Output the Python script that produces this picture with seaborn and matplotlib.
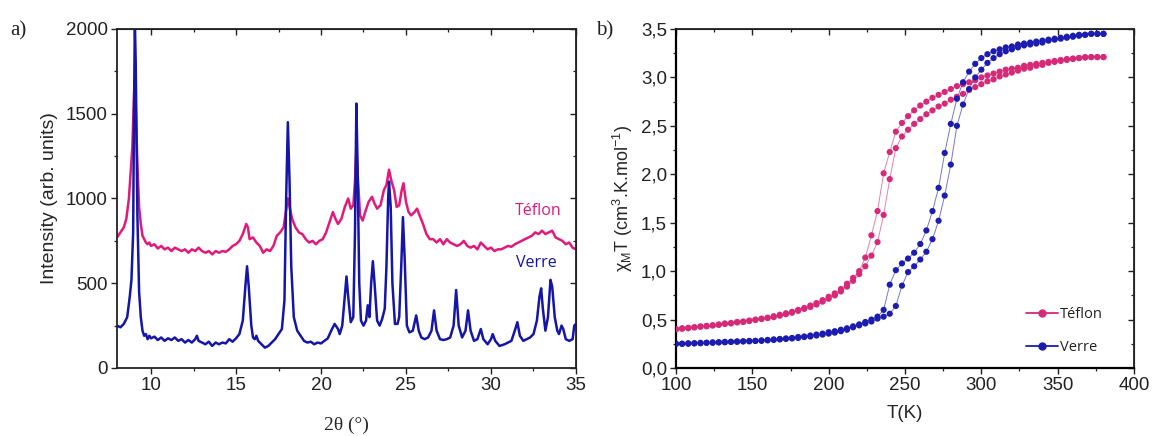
"""Two-panel figure: a) XRD patterns (Teflon / Verre), b) chi_M T vs T spin-crossover loops."""
import matplotlib
matplotlib.use("Agg")
import matplotlib.pyplot as plt
from matplotlib.lines import Line2D
from matplotlib.ticker import MultipleLocator, FuncFormatter
import seaborn as sns

# ---------------- a) XRD ----------------
ver_x = [8.0, 8.2, 8.4, 8.6, 8.75, 8.85, 8.95, 9.0, 9.05, 9.1, 9.2, 9.3, 9.4, 9.5, 9.6, 9.7, 9.8, 9.9,
         10.0, 10.2, 10.4, 10.6, 10.8, 11.0, 11.2, 11.4, 11.6, 11.8, 12.0, 12.2, 12.4, 12.6, 12.7, 12.8,
         13.0, 13.2, 13.4, 13.6, 13.8, 14.0, 14.2, 14.4, 14.6, 14.8, 15.0, 15.2, 15.4, 15.55, 15.65, 15.75,
         15.9, 16.0, 16.1, 16.2, 16.3, 16.5, 16.7, 16.9, 17.1, 17.3, 17.5, 17.7, 17.85, 17.95, 18.05, 18.15,
         18.25, 18.4, 18.6, 18.8, 19.0, 19.2, 19.4, 19.6, 19.8, 20.0, 20.2, 20.4, 20.6, 20.8, 21.0, 21.1,
         21.25, 21.4, 21.5, 21.6, 21.75, 21.9, 22.0, 22.08, 22.15, 22.25, 22.35, 22.5, 22.65, 22.75, 22.85,
         22.95, 23.05, 23.15, 23.3, 23.45, 23.6, 23.75, 23.85, 23.95, 24.0, 24.1, 24.2, 24.35, 24.5, 24.6,
         24.72, 24.82, 24.92, 25.05, 25.2, 25.4, 25.6, 25.75, 25.9, 26.1, 26.3, 26.5, 26.65, 26.8, 27.0,
         27.2, 27.4, 27.6, 27.8, 27.95, 28.1, 28.3, 28.5, 28.65, 28.8, 29.0, 29.2, 29.4, 29.55, 29.8, 30.0,
         30.1, 30.25, 30.5, 30.8, 31.0, 31.2, 31.4, 31.55, 31.7, 31.9, 32.1, 32.3, 32.5, 32.7, 32.85, 32.95,
         33.05, 33.2, 33.35, 33.5, 33.6, 33.75, 33.9, 34.0, 34.15, 34.25, 34.4, 34.6, 34.8, 34.9, 35.0]
ver_y = [250, 240, 260, 300, 420, 520, 800, 1500, 2050, 1800, 900, 450, 300, 220, 190, 200, 170, 190,
         175, 185, 165, 180, 160, 175, 165, 180, 160, 170, 150, 165, 150, 170, 190, 160,
         150, 140, 155, 130, 150, 140, 150, 145, 170, 155, 175, 200, 280, 480, 600, 480,
         250, 180, 170, 190, 160, 140, 120, 130, 150, 170, 200, 230, 400, 1000, 1450, 1100,
         600, 300, 220, 190, 160, 150, 155, 140, 150, 145, 160, 175, 220, 260, 230, 200,
         250, 420, 540, 420, 270, 300, 800, 1560, 1200, 500, 280, 250, 280, 370, 300,
         500, 630, 500, 280, 250, 290, 350, 600, 1000, 1100, 950, 500, 260, 260, 300,
         600, 890, 650, 250, 210, 220, 310, 220, 180, 170, 180, 220, 340, 220, 170,
         165, 170, 180, 250, 460, 250, 180, 220, 340, 220, 160, 170, 230, 170, 140, 170,
         200, 160, 130, 140, 150, 160, 220, 270, 190, 160, 170, 180, 200, 280, 420, 470,
         350, 220, 300, 520, 480, 300, 220, 200, 250, 230, 170, 160, 170, 250, 260]

tef_x = [8.0, 8.2, 8.4, 8.55, 8.7, 8.8, 8.9, 8.97, 9.03, 9.1, 9.2, 9.3, 9.4, 9.5, 9.6, 9.7, 9.8, 9.9,
         10.0, 10.2, 10.4, 10.6, 10.8, 11.0, 11.2, 11.4, 11.6, 11.8, 12.0, 12.2, 12.4, 12.6, 12.8, 13.0,
         13.2, 13.4, 13.6, 13.8, 14.0, 14.2, 14.4, 14.6, 14.8, 15.0, 15.2, 15.4, 15.6, 15.7, 15.8, 16.0,
         16.2, 16.4, 16.6, 16.8, 17.0, 17.2, 17.4, 17.6, 17.8, 17.95, 18.05, 18.15, 18.3, 18.5, 18.7, 18.9,
         19.1, 19.3, 19.5, 19.7, 19.9, 20.1, 20.3, 20.5, 20.7, 20.85, 21.0, 21.2, 21.4, 21.6, 21.75, 21.9,
         22.0, 22.08, 22.15, 22.3, 22.45, 22.6, 22.8, 23.0, 23.15, 23.3, 23.5, 23.7, 23.85, 24.0, 24.15,
         24.3, 24.45, 24.6, 24.75, 24.85, 25.0, 25.15, 25.3, 25.5, 25.65, 25.8, 26.0, 26.2, 26.4, 26.6,
         26.8, 27.0, 27.2, 27.4, 27.6, 27.8, 28.0, 28.2, 28.4, 28.6, 28.8, 29.0, 29.2, 29.4, 29.6, 29.8,
         30.0, 30.2, 30.4, 30.6, 30.8, 31.0, 31.2, 31.4, 31.6, 31.8, 32.0, 32.2, 32.4, 32.6, 32.8, 33.0,
         33.2, 33.4, 33.6, 33.8, 34.0, 34.2, 34.4, 34.6, 34.8, 35.0]
tef_y = [770, 800, 830, 880, 1000, 1150, 1300, 1500, 1690, 1550, 1200, 950, 850, 780, 760, 740, 730, 740,
         720, 730, 705, 720, 700, 710, 690, 710, 700, 690, 700, 680, 700, 690, 710, 690,
         680, 690, 670, 690, 680, 690, 685, 700, 720, 730, 750, 790, 850, 830, 760, 770,
         740, 720, 680, 700, 690, 720, 780, 800, 830, 930, 1000, 950, 880, 830, 800, 790,
         760, 740, 750, 730, 750, 760, 800, 860, 920, 880, 850, 880, 950, 1000, 940, 960,
         1100, 1300, 1150, 900, 870, 920, 980, 1010, 970, 940, 960, 1050, 1080, 1170, 1100,
         1050, 950, 960, 1050, 1090, 980, 920, 900, 920, 940, 900, 850, 790, 760, 760,
         740, 760, 730, 760, 740, 730, 720, 730, 750, 720, 710, 720, 700, 740, 720, 700,
         710, 690, 700, 700, 710, 720, 715, 730, 740, 750, 760, 770, 780, 800, 790, 810,
         790, 800, 810, 770, 760, 750, 730, 740, 710, 700]

# ---------------- b) chi_M T vs T ----------------
T_grid = list(range(100, 381, 4))
tef_cool = [0.40, 0.41, 0.415, 0.42, 0.43, 0.435, 0.44, 0.45, 0.46, 0.465, 0.475, 0.48, 0.49, 0.50,
            0.51, 0.52, 0.535, 0.55, 0.565, 0.58, 0.60, 0.62, 0.645, 0.67, 0.70, 0.735, 0.77, 0.815,
            0.87, 0.93, 1.00, 1.14, 1.37, 1.62, 2.01, 2.23, 2.44, 2.53, 2.60, 2.66, 2.71, 2.75, 2.79,
            2.82, 2.85, 2.88, 2.91, 2.93, 2.95, 2.97, 3.00, 3.02, 3.04, 3.06, 3.08, 3.09, 3.10, 3.12,
            3.13, 3.14, 3.15, 3.16, 3.17, 3.18, 3.19, 3.195, 3.20, 3.21, 3.21, 3.21, 3.21]
tef_heat = [0.40, 0.405, 0.41, 0.42, 0.425, 0.43, 0.44, 0.445, 0.455, 0.46, 0.47, 0.475, 0.485, 0.495,
            0.505, 0.515, 0.525, 0.54, 0.555, 0.57, 0.59, 0.61, 0.63, 0.655, 0.685, 0.715, 0.75, 0.79,
            0.84, 0.90, 0.97, 1.05, 1.16, 1.30, 1.58, 1.95, 2.27, 2.39, 2.46, 2.52, 2.57, 2.62, 2.66,
            2.70, 2.73, 2.77, 2.80, 2.83, 2.87, 2.90, 2.93, 2.96, 2.98, 3.01, 3.03, 3.05, 3.07, 3.09,
            3.10, 3.12, 3.13, 3.15, 3.16, 3.17, 3.18, 3.19, 3.20, 3.205, 3.21, 3.21, 3.21]
ver_cool = [0.25, 0.25, 0.255, 0.255, 0.26, 0.26, 0.265, 0.265, 0.27, 0.27, 0.275, 0.275, 0.28, 0.28,
            0.285, 0.29, 0.295, 0.30, 0.305, 0.31, 0.32, 0.325, 0.335, 0.345, 0.355, 0.37, 0.38, 0.395,
            0.41, 0.43, 0.45, 0.475, 0.50, 0.53, 0.60, 0.86, 1.01, 1.08, 1.13, 1.19, 1.28, 1.42, 1.62,
            1.86, 2.22, 2.52, 2.78, 2.95, 3.06, 3.14, 3.20, 3.24, 3.27, 3.29, 3.31, 3.32, 3.34, 3.35,
            3.36, 3.37, 3.38, 3.39, 3.40, 3.41, 3.42, 3.43, 3.44, 3.44, 3.45, 3.45, 3.45]
ver_heat = [0.25, 0.25, 0.25, 0.255, 0.255, 0.26, 0.26, 0.265, 0.265, 0.27, 0.27, 0.275, 0.275, 0.28,
            0.28, 0.285, 0.29, 0.295, 0.30, 0.305, 0.31, 0.32, 0.325, 0.335, 0.345, 0.355, 0.365, 0.38,
            0.395, 0.42, 0.44, 0.46, 0.48, 0.51, 0.53, 0.56, 0.64, 0.85, 0.99, 1.05, 1.12, 1.20, 1.33,
            1.52, 1.78, 2.10, 2.50, 2.72, 2.88, 3.00, 3.08, 3.15, 3.20, 3.24, 3.27, 3.29, 3.31, 3.33,
            3.34, 3.35, 3.36, 3.38, 3.39, 3.40, 3.41, 3.42, 3.43, 3.44, 3.45, 3.45, 3.45]

PINK = "#e3197a"
BLUE = "#1515a8"
PINK_B = "#d62a78"
BLUE_B = "#1c1cb0"

sns.set_style("ticks")
plt.rcParams["font.family"] = ["Liberation Sans", "DejaVu Sans"]
plt.rcParams["mathtext.fontset"] = "custom"
plt.rcParams["mathtext.rm"] = "Liberation Sans"
plt.rcParams["mathtext.it"] = "Liberation Sans:italic"
plt.rcParams["axes.edgecolor"] = "#222222"
plt.rcParams["xtick.color"] = "#222222"
plt.rcParams["ytick.color"] = "#222222"
plt.rcParams["text.color"] = "#222222"

fig = plt.figure(figsize=(11.55, 4.36), dpi=100)
ax1 = fig.add_axes([0.1013, 0.156, 0.3974, 0.7775])
ax2 = fig.add_axes([0.5853, 0.156, 0.3965, 0.7775])


def style_axes(ax, xmaj, xmin, ymaj, ymin, fmt=None):
    ax.xaxis.set_major_locator(MultipleLocator(xmaj))
    ax.xaxis.set_minor_locator(MultipleLocator(xmin))
    ax.yaxis.set_major_locator(MultipleLocator(ymaj))
    ax.yaxis.set_minor_locator(MultipleLocator(ymin))
    if fmt is not None:
        ax.yaxis.set_major_formatter(FuncFormatter(fmt))
    ax.tick_params(which="major", direction="out", length=4.5, width=1.0, labelsize=13.5, pad=2)
    ax.tick_params(which="minor", direction="out", length=2.5, width=0.9)
    for s in ax.spines.values():
        s.set_linewidth(1.3)
    # mirrored inward ticks on top / right
    top = ax.secondary_xaxis("top")
    top.xaxis.set_major_locator(MultipleLocator(xmaj))
    top.xaxis.set_minor_locator(MultipleLocator(xmin))
    top.tick_params(which="major", direction="in", length=4.5, width=1.0, labeltop=False)
    top.tick_params(which="minor", direction="in", length=2.5, width=0.9)
    right = ax.secondary_yaxis("right")
    right.yaxis.set_major_locator(MultipleLocator(ymaj))
    right.yaxis.set_minor_locator(MultipleLocator(ymin))
    right.tick_params(which="major", direction="in", length=4.5, width=1.0, labelright=False)
    right.tick_params(which="minor", direction="in", length=2.5, width=0.9)
    return top, right


# panel a
sns.lineplot(x=tef_x, y=tef_y, sort=False, estimator=None, color=PINK, lw=1.8, ax=ax1)
sns.lineplot(x=ver_x, y=ver_y, sort=False, estimator=None, color=BLUE, lw=1.8, ax=ax1)
ax1.set_xlim(8, 35)
ax1.set_ylim(0, 2000)
style_axes(ax1, 5, 2.5, 500, 250)
ax1.set_ylabel("Intensity (arb. units)", fontsize=14, labelpad=6)
ax1.set_xlabel("2θ (°)", fontsize=14, family=["Liberation Serif"], labelpad=16)
ax1.text(32.8, 926, "Téflon", color=PINK, fontsize=11.5, family=["Open Sans"], ha="center", va="center")
ax1.text(32.65, 620, "Verre", color=BLUE, fontsize=11.5, family=["Open Sans"], ha="center", va="center")

# panel b
comma = lambda v, _: f"{v:.1f}".replace(".", ",")
branches = [(tef_cool, PINK_B), (tef_heat, PINK_B), (ver_cool, BLUE_B), (ver_heat, BLUE_B)]
for vals, c in branches:
    sns.lineplot(x=T_grid, y=vals, sort=False, estimator=None, color=c, lw=0.7, alpha=0.6, ax=ax2)
    sns.scatterplot(x=T_grid, y=vals, color=c, s=20, edgecolor="none", ax=ax2, zorder=3)
ax2.set_xlim(100, 400)
ax2.set_ylim(0, 3.5)
style_axes(ax2, 50, 25, 0.5, 0.25, fmt=comma)
for side in ("left", "bottom"):
    ax2.spines[side].set_color("black")
    ax2.spines[side].set_linewidth(1.6)
ax2.set_xlabel("T(K)", fontsize=13.5, labelpad=8)
ax2.set_ylabel(r"χ$_{\mathrm{M}}$T (cm$^{3}$.K.mol$^{-1}$)", fontsize=13, labelpad=4)

handles = [Line2D([], [], color=PINK_B, lw=1.3, marker="o", markersize=5),
           Line2D([], [], color=BLUE_B, lw=1.3, marker="o", markersize=5)]
ax2.legend(handles, ["Téflon", "Verre"], loc="lower right", bbox_to_anchor=(0.96, 0.0),
           frameon=False, prop={"family": "Open Sans", "size": 10.5}, handlelength=2.2,
           handletextpad=0.1, labelspacing=1.2)

fig.text(0.009, 0.93, "a)", fontsize=15, family=["Liberation Serif"], va="center")
fig.text(0.516, 0.93, "b)", fontsize=15, family=["Liberation Serif"], va="center")

fig.savefig("out.png", dpi=100)
